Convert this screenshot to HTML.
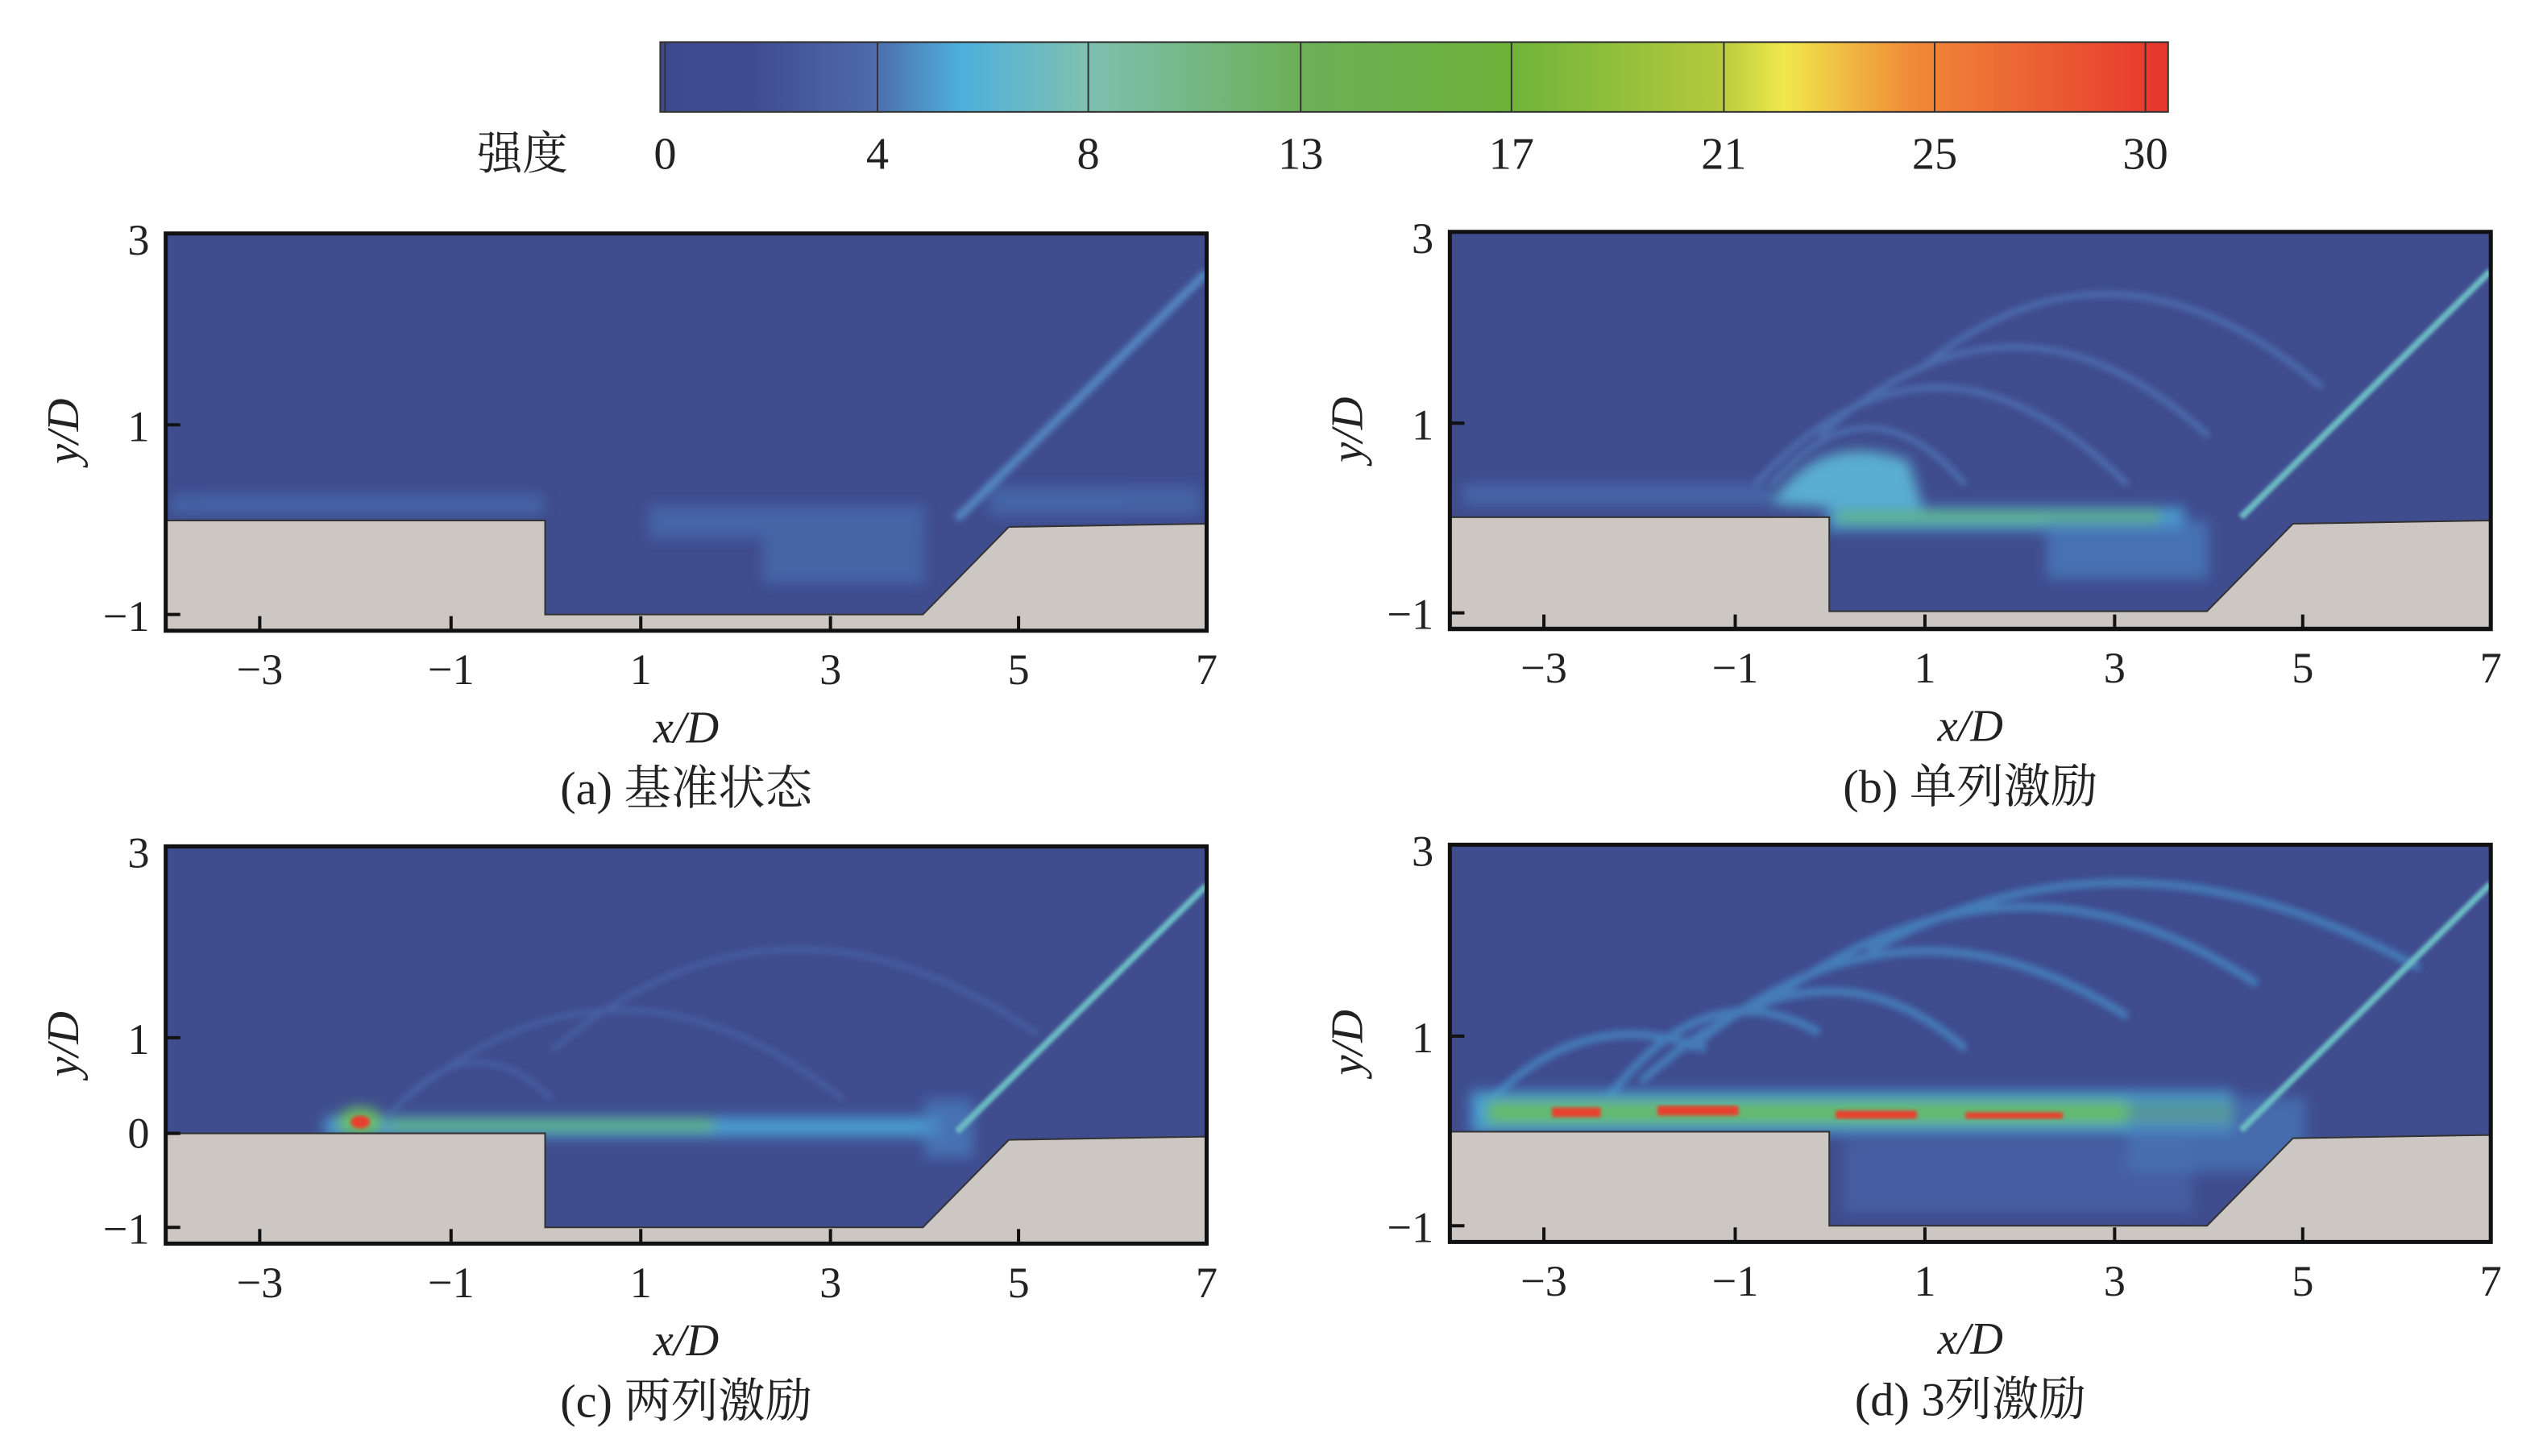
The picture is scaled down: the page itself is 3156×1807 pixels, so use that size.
<!DOCTYPE html>
<html><head><meta charset="utf-8"><style>
html,body{margin:0;padding:0;background:#fff}
svg{display:block}
text{font-family:"Liberation Serif","Noto Serif CJK SC",serif;fill:#222}
</style></head><body>
<svg width="3156" height="1807" viewBox="0 0 1568 898" xmlns="http://www.w3.org/2000/svg">
<defs>
<linearGradient id="cb" x1="0" x2="1">
<stop offset="0" stop-color="#3e4a8e"/>
<stop offset="0.06" stop-color="#3f4c90"/>
<stop offset="0.14" stop-color="#4e6aa8"/>
<stop offset="0.2" stop-color="#4eb0dc"/>
<stop offset="0.28" stop-color="#7ec0b2"/>
<stop offset="0.42" stop-color="#6cb05a"/>
<stop offset="0.56" stop-color="#6db33a"/>
<stop offset="0.7" stop-color="#b2c93c"/>
<stop offset="0.745" stop-color="#f0e84c"/>
<stop offset="0.83" stop-color="#f08a38"/>
<stop offset="1" stop-color="#e6352e"/>
</linearGradient>
<filter id="b4" x="-20%" y="-50%" width="140%" height="200%"><feGaussianBlur stdDeviation="4"/></filter>
<filter id="b2" x="-20%" y="-50%" width="140%" height="200%"><feGaussianBlur stdDeviation="2"/></filter>
<filter id="b1"><feGaussianBlur stdDeviation="1"/></filter>
<clipPath id="cp"><rect x="102" y="144" width="642" height="245"/></clipPath>
<g id="frame">
<rect x="102" y="144" width="642" height="245" fill="none" stroke="#111" stroke-width="2.5"/>
<g stroke="#111" stroke-width="2">
<line x1="160" y1="389" x2="160" y2="380"/><line x1="278" y1="389" x2="278" y2="380"/>
<line x1="395" y1="389" x2="395" y2="380"/><line x1="512" y1="389" x2="512" y2="380"/>
<line x1="628" y1="389" x2="628" y2="380"/>
<line x1="102" y1="262" x2="111" y2="262"/><line x1="102" y1="379" x2="111" y2="379"/>
</g>
<g font-size="27" text-anchor="middle">
<text x="160" y="422">−3</text><text x="278" y="422">−1</text><text x="395" y="422">1</text>
<text x="512" y="422">3</text><text x="628" y="422">5</text><text x="744" y="422">7</text>
</g>
<g font-size="27" text-anchor="end">
<text x="92" y="157">3</text><text x="92" y="272">1</text><text x="92" y="389">−1</text>
</g>
<text x="423" y="458" font-size="28" font-style="italic" text-anchor="middle">x/D</text>
<text transform="translate(48,266) rotate(-90)" font-size="28" font-style="italic" text-anchor="middle">y/D</text>
</g>
<path id="solid" d="M102,321 L336,321 L336,379 L569,379 L622,325 L744,323 L744,389 L102,389 Z" fill="#cdc7c4" stroke="#333" stroke-width="1"/>
</defs>

<rect x="407" y="26" width="930" height="43" fill="url(#cb)" stroke="#333" stroke-width="1"/>
<g stroke="#333" stroke-width="1">
<line x1="410" y1="26" x2="410" y2="69"/><line x1="541" y1="26" x2="541" y2="69"/>
<line x1="671" y1="26" x2="671" y2="69"/><line x1="802" y1="26" x2="802" y2="69"/>
<line x1="932" y1="26" x2="932" y2="69"/><line x1="1063" y1="26" x2="1063" y2="69"/>
<line x1="1193" y1="26" x2="1193" y2="69"/><line x1="1323" y1="26" x2="1323" y2="69"/>
</g>
<g font-size="28" text-anchor="middle">
<text x="322" y="104" font-family="Noto Serif CJK SC,serif">强度</text>
<text x="410" y="104">0</text><text x="541" y="104">4</text><text x="671" y="104">8</text>
<text x="802" y="104">13</text><text x="932" y="104">17</text><text x="1063" y="104">21</text>
<text x="1193" y="104">25</text><text x="1323" y="104">30</text>
</g>

<!-- panel a -->
<g>
<g clip-path="url(#cp)">
<rect x="102" y="144" width="642" height="245" fill="#3f4c8e"/>
<g filter="url(#b4)" fill="#4a74b4" opacity="0.6">
<rect x="105" y="305" width="230" height="12"/>
<rect x="400" y="312" width="170" height="20"/>
<rect x="470" y="320" width="100" height="40"/>
<rect x="610" y="300" width="130" height="18"/>
</g>
<line x1="590" y1="320" x2="744" y2="168" stroke="#5c9ad0" stroke-width="5" filter="url(#b2)" opacity="0.8"/>
<use href="#solid"/>
</g>
<use href="#frame"/>
<text x="423" y="496" font-size="29" text-anchor="middle">(a) 基准状态</text>
</g>

<!-- panel b -->
<g transform="translate(792,-1)">
<g clip-path="url(#cp)">
<rect x="102" y="144" width="642" height="245" fill="#3f4c8e"/>
<g fill="none" stroke="#5582bf" stroke-width="4" filter="url(#b2)" opacity="0.6">
<path d="M300,300 Q360,230 420,300"/>
<path d="M290,300 Q400,180 520,300"/>
<path d="M330,270 Q450,160 570,270"/>
<path d="M390,230 Q510,130 640,240"/>
</g>
<g filter="url(#b4)">
<path d="M300,312 Q330,265 385,285 L395,318 Z" fill="#5aaed0"/>
<rect x="335" y="314" width="220" height="14" fill="#4a9cd0"/>
<rect x="340" y="317" width="200" height="6" fill="#66bb66"/>
<rect x="470" y="322" width="100" height="36" fill="#4a80c0" opacity="0.7"/>
<rect x="110" y="300" width="190" height="12" fill="#4a72b4" opacity="0.7"/>
</g>
<line x1="590" y1="320" x2="744" y2="168" stroke="#6cbcc4" stroke-width="4" filter="url(#b1)"/>
<use href="#solid" transform="translate(0,-1)"/>
</g>
<use href="#frame"/>
<text x="423" y="496" font-size="29" text-anchor="middle">(b) 单列激励</text>
</g>

<!-- panel c -->
<g transform="translate(0,378)">
<g clip-path="url(#cp)">
<rect x="102" y="144" width="642" height="245" fill="#3f4c8e"/>
<g fill="none" stroke="#5078b8" stroke-width="3" filter="url(#b2)" opacity="0.5">
<path d="M240,310 Q290,250 340,300"/>
<path d="M250,300 Q380,190 520,300"/>
<path d="M340,270 Q480,150 640,260"/>
</g>
<g filter="url(#b4)">
<rect x="200" y="311" width="380" height="12" fill="#4a9cd0"/>
<rect x="240" y="313" width="200" height="6" fill="#66bb66"/>
<ellipse cx="222" cy="314" rx="14" ry="9" fill="#6cc060"/>
<rect x="570" y="300" width="30" height="36" fill="#4a80c0" opacity="0.7"/>
</g>
<ellipse cx="222" cy="314" rx="6" ry="4" fill="#e8402e" filter="url(#b1)"/>
<line x1="590" y1="320" x2="744" y2="168" stroke="#6cbcc4" stroke-width="4" filter="url(#b1)"/>
<use href="#solid"/>
</g>
<use href="#frame"/>
<line x1="102" y1="321" x2="111" y2="321" stroke="#111" stroke-width="2"/>
<text x="92" y="330" font-size="27" text-anchor="end">0</text>
<text x="423" y="496" font-size="29" text-anchor="middle">(c) 两列激励</text>
</g>

<!-- panel d -->
<g transform="translate(792,377)">
<g clip-path="url(#cp)">
<rect x="102" y="144" width="642" height="245" fill="#3f4c8e"/>
<g fill="none" stroke="#4a9cd4" stroke-width="5" filter="url(#b2)" opacity="0.6">
<path d="M120,310 Q180,240 260,270"/>
<path d="M200,300 Q260,220 330,260"/>
<path d="M220,290 Q330,190 420,270"/>
<path d="M250,270 Q380,160 520,250"/>
<path d="M300,240 Q450,130 600,230"/>
<path d="M360,210 Q520,120 700,220"/>
</g>
<g filter="url(#b4)">
<rect x="115" y="296" width="470" height="26" fill="#4a9cd0"/>
<rect x="125" y="302" width="460" height="14" fill="#66bb66"/>
<rect x="520" y="300" width="110" height="46" fill="#4a80c0" opacity="0.6"/>
<rect x="345" y="326" width="215" height="45" fill="#4a72b4" opacity="0.5"/>
</g>
<g filter="url(#b1)" fill="#e8402e">
<rect x="165" y="306" width="30" height="6"/><rect x="230" y="305" width="50" height="6"/>
<rect x="340" y="308" width="50" height="5"/><rect x="420" y="309" width="60" height="4"/>
</g>
<line x1="590" y1="320" x2="744" y2="168" stroke="#6cbcc4" stroke-width="4" filter="url(#b1)"/>
<use href="#solid"/>
</g>
<use href="#frame"/>
<text x="423" y="496" font-size="29" text-anchor="middle">(d) 3列激励</text>
</g>
</svg>
</body></html>
